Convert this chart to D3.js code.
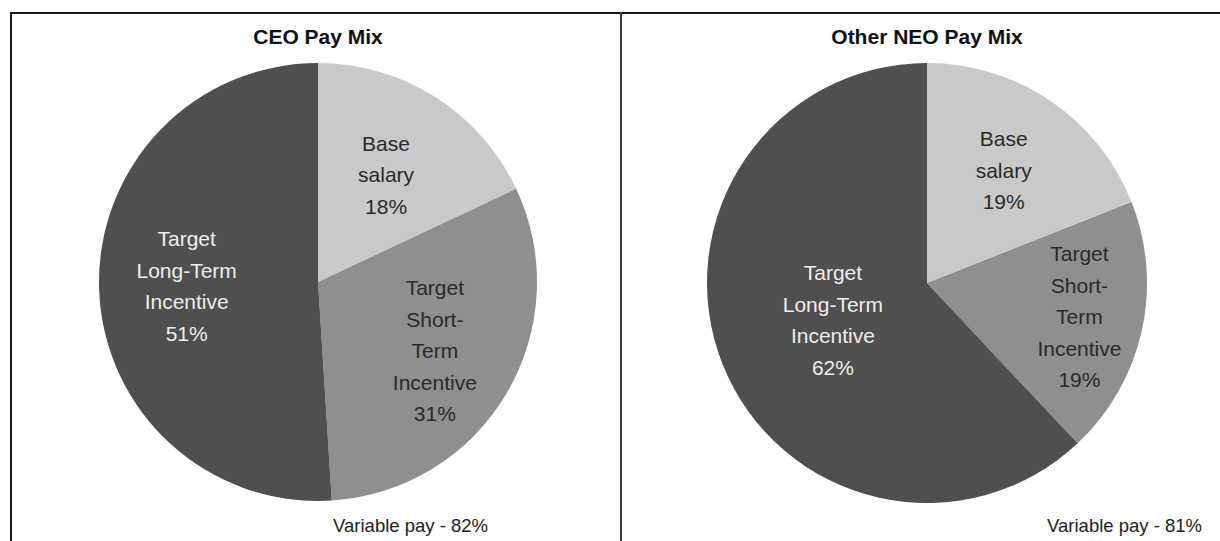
<!DOCTYPE html>
<html>
<head>
<meta charset="utf-8">
<script src="https://cdn.jsdelivr.net/npm/d3@7"></script>
<style>
    body { margin: 0; background: #fff; }
    text { font-family: "Liberation Sans", Arial, Helvetica, sans-serif; }
</style>
</head>
<body>
<div id="chart"></div>
<script>
// Pay mix data
const categories = ["Base salary", "Target Short-Term Incentive", "Target Long-Term Incentive"];
const ceoValues = [18, 31, 51];
const neoValues = [19, 19, 62];
const chartTitles = ["CEO Pay Mix", "Other NEO Pay Mix"];
const variablePay = [82, 81];

// label lines for each slice
const labelLines = [
    ["Base", "salary"],
    ["Target", "Short-", "Term", "Incentive"],
    ["Target", "Long-Term", "Incentive"]
];

const colors = ["#c9c9c9", "#8f8f8f", "#4f4f4f"];
const textColors = ["#2a2a2a", "#2a2a2a", "#eeeeee"];

// layout
const width = 1220, height = 541;
const panels = [
    { cx: 318, cy: 282, r: 219, labelR: [0.58, 0.62, 0.6], noteX: 488 },
    { cx: 927, cy: 283, r: 220, labelR: [0.62, 0.71, 0.46], noteX: 1202 }
];

const svg = d3.select("#chart")
    .append("svg")
    .attr("width", width)
    .attr("height", height);

// frame lines
svg.append("line").attr("x1", 11).attr("x2", width).attr("y1", 13).attr("y2", 13)
    .attr("stroke", "#1a1a1a").attr("stroke-width", 2);
svg.append("line").attr("x1", 11).attr("x2", 11).attr("y1", 12).attr("y2", height)
    .attr("stroke", "#1a1a1a").attr("stroke-width", 2);
svg.append("line").attr("x1", 621).attr("x2", 621).attr("y1", 12).attr("y2", height)
    .attr("stroke", "#3a3a3a").attr("stroke-width", 2);

const pie = d3.pie().sort(null).value(d => d);

[ceoValues, neoValues].forEach((values, p) => {
    const cfg = panels[p];
    const g = svg.append("g")
        .attr("transform", `translate(${cfg.cx}, ${cfg.cy})`);

    const arc = d3.arc().innerRadius(0).outerRadius(cfg.r);
    const arcs = pie(values);

    g.selectAll("path")
        .data(arcs)
        .enter()
        .append("path")
        .attr("d", arc)
        .attr("fill", (d, i) => colors[i]);

    // slice labels
    arcs.forEach((d, i) => {
        const lr = cfg.r * cfg.labelR[i];
        const labelArc = d3.arc().innerRadius(lr).outerRadius(lr);
        const [x, y] = labelArc.centroid(d);
        const lines = labelLines[i].concat([values[i] + "%"]);
        const lh = 31.5;
        const t = g.append("text")
            .attr("text-anchor", "middle")
            .attr("fill", textColors[i])
            .style("font-size", "21px");
        lines.forEach((ln, k) => {
            t.append("tspan")
                .attr("x", x)
                .attr("y", y + (k - (lines.length - 1) / 2) * lh)
                .attr("dy", "0.35em")
                .text(ln);
        });
    });

    // title
    svg.append("text")
        .attr("x", cfg.cx)
        .attr("y", 37)
        .attr("dy", "0.35em")
        .attr("text-anchor", "middle")
        .style("font-size", "21px")
        .style("font-weight", "bold")
        .attr("fill", "#111")
        .text(chartTitles[p]);

    // variable pay note
    svg.append("text")
        .attr("x", cfg.noteX)
        .attr("y", 526)
        .attr("dy", "0.35em")
        .attr("text-anchor", "end")
        .style("font-size", "18.5px")
        .attr("fill", "#222")
        .text(`Variable pay - ${variablePay[p]}%`);
});
</script>
</body>
</html>
